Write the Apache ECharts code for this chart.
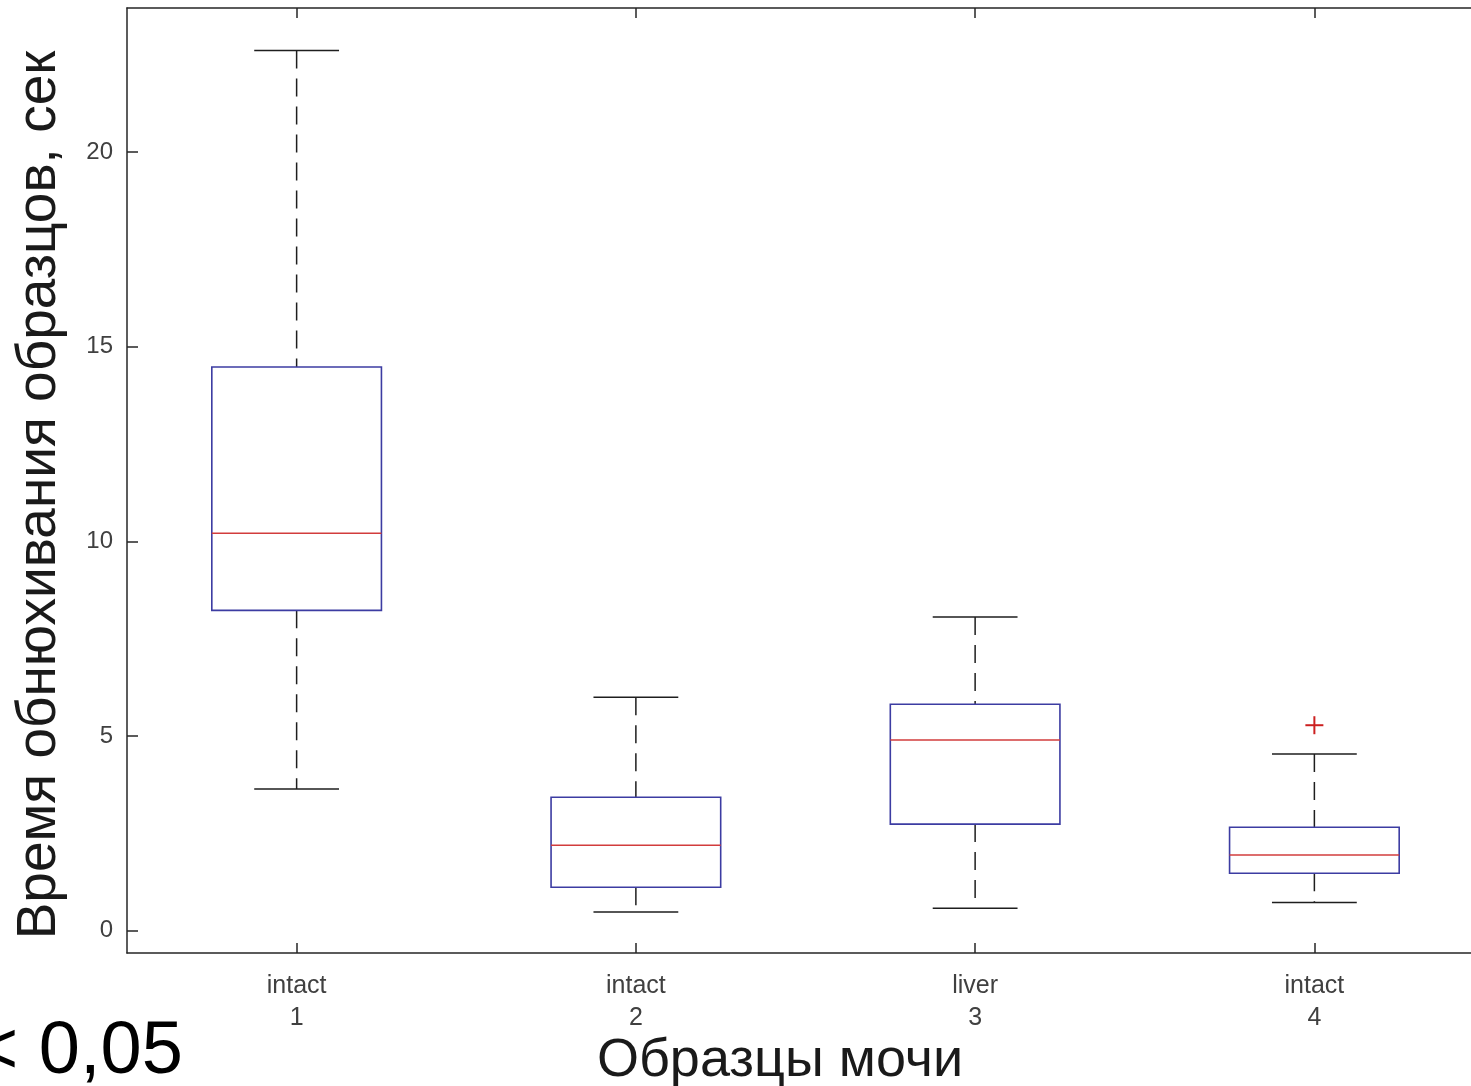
<!DOCTYPE html>
<html>
<head>
<meta charset="utf-8">
<script src="https://cdn.jsdelivr.net/npm/echarts@6/dist/echarts.min.js"></script>
<style>
html, body { margin: 0; padding: 0; background: #ffffff; overflow: hidden; width: 1471px; height: 1086px; }
#chart { width: 1500px; height: 1086px; }
</style>
</head>
<body>
<div id="chart"></div>
<script>
const categories = ['intact\n1', 'intact\n2', 'liver\n3', 'intact\n4'];
const whiskerLow = [3.64, 0.48, 0.58, 0.73];
const quartile1 = [8.23, 1.12, 2.74, 1.48];
const medians = [10.21, 2.20, 4.90, 1.95];
const quartile3 = [14.48, 3.43, 5.82, 2.66];
const whiskerHigh = [22.61, 6.00, 8.06, 4.54];
const outlierGroup = [3];
const outlierValue = [5.28];
const yTicks = [0, 5, 10, 15, 20];
const yMin = -0.57;
const yMax = 23.7;
const xTitle = 'Образцы мочи';
const yTitle = 'Время обнюхивания образцов, сек';
const noteText = '< 0,05';

const FONT = '"Liberation Sans", Arial, sans-serif';
const AXIS = '#262626';
const BOX = '#3c3ca2';
const MED = '#d23c3c';
const WHISK = '#1e1e1e';

const boxData = categories.map((c, i) => [i, whiskerLow[i], quartile1[i], medians[i], quartile3[i], whiskerHigh[i]]);
const outData = outlierGroup.map((g, i) => [g, outlierValue[i]]);

const chart = echarts.init(document.getElementById('chart'), null, { renderer: 'canvas' });

function renderBox(params, api) {
  const i = api.value(0);
  const cx = api.coord([i, 0])[0];
  const bw = api.size([1, 0])[0];
  const y = k => api.coord([i, api.value(k)])[1];
  const yLow = y(1), yQ1 = y(2), yMed = y(3), yQ3 = y(4), yHigh = y(5);
  const half = bw * 0.25;
  const cap = bw * 0.125;
  return {
    type: 'group',
    children: [
      { type: 'line', shape: { x1: cx, y1: yHigh, x2: cx, y2: yQ3 },
        style: { stroke: WHISK, lineWidth: 1.5, lineDash: [18, 10] } },
      { type: 'line', shape: { x1: cx, y1: yQ1, x2: cx, y2: yLow },
        style: { stroke: WHISK, lineWidth: 1.5, lineDash: [18, 10] } },
      { type: 'line', shape: { x1: cx - cap, y1: yHigh, x2: cx + cap, y2: yHigh },
        style: { stroke: WHISK, lineWidth: 1.5 } },
      { type: 'line', shape: { x1: cx - cap, y1: yLow, x2: cx + cap, y2: yLow },
        style: { stroke: WHISK, lineWidth: 1.5 } },
      { type: 'rect', shape: { x: cx - half, y: yQ3, width: half * 2, height: yQ1 - yQ3 },
        style: { fill: 'none', stroke: BOX, lineWidth: 1.6 } },
      { type: 'line', shape: { x1: cx - half, y1: yMed, x2: cx + half, y2: yMed },
        style: { stroke: MED, lineWidth: 1.5 } }
    ]
  };
}

function renderPlus(params, api) {
  const p = api.coord([api.value(0), api.value(1)]);
  const s = 9;
  return {
    type: 'group',
    children: [
      { type: 'line', shape: { x1: p[0] - s, y1: p[1], x2: p[0] + s, y2: p[1] }, style: { stroke: '#cc2020', lineWidth: 2 } },
      { type: 'line', shape: { x1: p[0], y1: p[1] - s, x2: p[0], y2: p[1] + s }, style: { stroke: '#cc2020', lineWidth: 2 } }
    ]
  };
}

const axisLineStyle = { color: AXIS, width: 1.5 };

const option = {
  backgroundColor: '#ffffff',
  animation: false,
  grid: { left: 127, right: 16, top: 8, bottom: 133, containLabel: false },
  xAxis: [
    {
      type: 'category', data: categories, position: 'bottom',
      axisLine: { show: true, onZero: false, lineStyle: axisLineStyle },
      axisTick: { show: true, inside: true, length: 10, alignWithLabel: true, lineStyle: axisLineStyle },
      axisLabel: { show: true, fontSize: 25, color: '#404040', lineHeight: 32, margin: 17, fontFamily: FONT },
      splitLine: { show: false }
    },
    {
      type: 'category', data: categories, position: 'top',
      axisLine: { show: true, onZero: false, lineStyle: axisLineStyle },
      axisTick: { show: true, inside: true, length: 10, alignWithLabel: true, lineStyle: axisLineStyle },
      axisLabel: { show: false },
      splitLine: { show: false }
    }
  ],
  yAxis: [
    {
      type: 'value', min: yMin, max: yMax, position: 'left',
      axisLine: { show: true, onZero: false, lineStyle: axisLineStyle },
      axisTick: { show: true, inside: true, length: 11, customValues: yTicks, lineStyle: axisLineStyle },
      axisLabel: { show: true, customValues: yTicks, fontSize: 24, color: '#404040', margin: 14, fontFamily: FONT },
      splitLine: { show: false }
    },
    {
      type: 'value', min: yMin, max: yMax, position: 'right',
      axisLine: { show: true, onZero: false, lineStyle: axisLineStyle },
      axisTick: { show: true, inside: true, length: 11, customValues: yTicks, lineStyle: axisLineStyle },
      axisLabel: { show: false },
      splitLine: { show: false }
    }
  ],
  series: [
    { type: 'custom', name: 'box', xAxisIndex: 0, yAxisIndex: 0, data: boxData,
      encode: { x: 0, y: [1, 2, 3, 4, 5] }, renderItem: renderBox, clip: false },
    { type: 'custom', name: 'outlier', xAxisIndex: 0, yAxisIndex: 0, data: outData,
      encode: { x: 0, y: 1 }, renderItem: renderPlus, clip: false }
  ],
  graphic: [
    { type: 'text', x: 40, y: 495, rotation: Math.PI / 2,
      style: { text: yTitle, fontSize: 55, fontFamily: FONT, fill: '#1a1a1a', textAlign: 'center', textVerticalAlign: 'middle' } },
    { type: 'text', x: 780, y: 1061,
      style: { text: xTitle, fontSize: 54, fontFamily: FONT, fill: '#1a1a1a', textAlign: 'center', textVerticalAlign: 'middle' } },
    { type: 'text', x: -25, y: 1053,
      style: { text: noteText, fontSize: 74, fontFamily: FONT, fill: '#000000', textAlign: 'left', textVerticalAlign: 'middle' } }
  ]
};

chart.setOption(option);
</script>
</body>
</html>
